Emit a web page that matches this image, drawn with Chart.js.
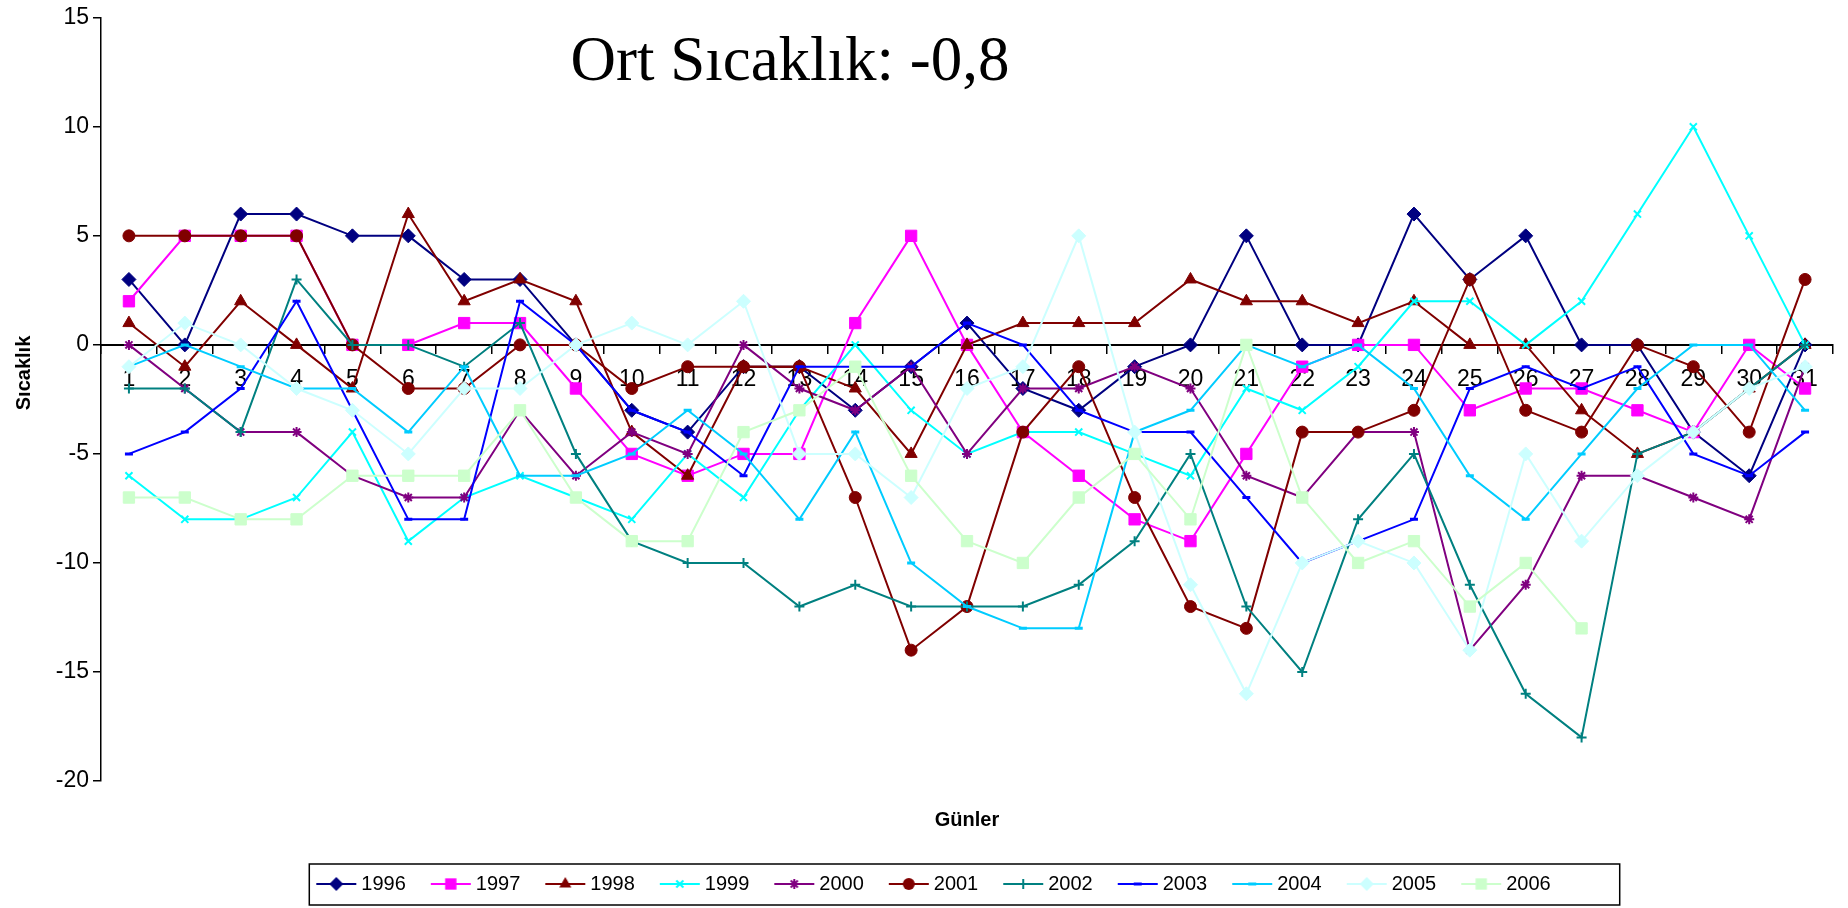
<!DOCTYPE html>
<html>
<head>
<meta charset="utf-8">
<script src="https://cdn.jsdelivr.net/npm/chart.js@4/dist/chart.umd.min.js"></script>
<style>
  html, body { margin: 0; padding: 0; background: #fff; }
  #chart { display: block; }
</style>
</head>
<body>
<canvas id="chart" width="1848" height="908"></canvas>
<script>
// data (temperature per day, one array per year)
const days = ['1','2','3','4','5','6','7','8','9','10','11','12','13','14','15','16',
  '17','18','19','20','21','22','23','24','25','26','27','28','29','30','31'];
const years = ['1996','1997','1998','1999','2000','2001','2002','2003','2004','2005','2006'];

const y1996 = [3,0,6,6,5,5,3,3,0,-3,-4,-1,-1,-3,-1,1,-2,-3,-1,0,5,0,0,6,3,5,0,0,-4,-6,0];
const y1997 = [2,5,5,5,0,0,1,1,-2,-5,-6,-5,-5,1,5,0,-4,-6,-8,-9,-5,-1,0,0,-3,-2,-2,-3,-4,0,-2];
const y1998 = [1,-1,2,0,-2,6,2,3,2,-4,-6,-1,-1,-2,-5,0,1,1,1,3,2,2,1,2,0,0,-3,-5,-4,-2,0];
const y1999 = [-6,-8,-8,-7,-4,-9,-7,-6,-7,-8,-5,-7,-3,0,-3,-5,-4,-4,-5,-6,-2,-3,-1,2,2,0,2,6,10,5,0];
const y2000 = [0,-2,-4,-4,-6,-7,-7,-3,-6,-4,-5,0,-2,-3,-1,-5,-2,-2,-1,-2,-6,-7,-4,-4,-14,-11,-6,-6,-7,-8,-1];
const y2001 = [5,5,5,5,0,-2,-2,0,0,-2,-1,-1,-1,-7,-14,-12,-4,-1,-7,-12,-13,-4,-4,-3,3,-3,-4,0,-1,-4,3];
const y2002 = [-2,-2,-4,3,0,0,-1,1,-5,-9,-10,-10,-12,-11,-12,-12,-12,-11,-9,-5,-12,-15,-8,-5,-11,-16,-18,-5,-4,-2,0];
const y2003 = [-5,-4,-2,2,-3,-8,-8,2,0,-3,-4,-6,-1,-1,-1,1,0,-3,-4,-4,-7,-10,-9,-8,-2,-1,-2,-1,-5,-6,-4];
const y2004 = [-1,0,-1,-2,-2,-4,-1,-6,-6,-5,-3,-5,-8,-4,-10,-12,-13,-13,-4,-3,0,-1,0,-2,-6,-8,-5,-2,0,0,-3];
const y2005 = [-1,1,0,-2,-3,-5,-2,-2,0,1,0,2,-5,-5,-7,-2,-1,5,-4,-11,-16,-10,-9,-10,-14,-5,-9,-6,-4,-2,-1];
const y2006 = [-7,-7,-8,-8,-6,-6,-6,-3,-7,-9,-9,-4,-3,-1,-6,-9,-10,-7,-5,-8,0,-7,-10,-9,-12,-10,-13,null,null,null,null];

const yTicks = [-20,-15,-10,-5,0,5,10,15];

const chartTitle = 'Ort Sıcaklık: -0,8';
const xTitle = 'Günler';
const yTitle = 'Sıcaklık';

// look of each series (Excel-like palette and markers)
const seriesData = [y1996,y1997,y1998,y1999,y2000,y2001,y2002,y2003,y2004,y2005,y2006];
const colors = ['#000080','#FF00FF','#800000','#00FFFF','#800080','#800000','#008080','#0000FF','#00CCFF','#CCFFFF','#CCFFCC'];
const markers = ['rectRot','rect','triangle','crossRot','star','circle','cross','line','line','rectRot','rect'];
const radii = [7,8,7,5,5,6,5,4,4,7,8];
const markerLine = [1,1,1,2,2,1,2,3,3,1,1];

const FONT = '"Liberation Sans", Arial, sans-serif';

// legend sample: short line with the marker, drawn a bit right of the image centre
function legendIcon(color, style, r, bw) {
  const c = document.createElement('canvas');
  c.width = 60; c.height = 20;
  const g = c.getContext('2d');
  const x = 37, y = 10, d = r * Math.SQRT1_2;
  g.strokeStyle = color; g.fillStyle = color;
  g.lineWidth = 2;
  g.beginPath(); g.moveTo(x - 20, y); g.lineTo(x + 20, y); g.stroke();
  g.lineWidth = bw;
  g.beginPath();
  if (style === 'rectRot') {
    g.moveTo(x - r, y); g.lineTo(x, y - r); g.lineTo(x + r, y); g.lineTo(x, y + r); g.closePath(); g.fill();
  } else if (style === 'rect') {
    g.fillRect(x - d, y - d, 2 * d, 2 * d);
  } else if (style === 'triangle') {
    g.moveTo(x, y - r); g.lineTo(x + r * 0.866, y + r * 0.5); g.lineTo(x - r * 0.866, y + r * 0.5); g.closePath(); g.fill();
  } else if (style === 'circle') {
    g.arc(x, y, r, 0, Math.PI * 2); g.fill();
  } else {
    if (style === 'crossRot' || style === 'star') {
      g.moveTo(x - d, y - d); g.lineTo(x + d, y + d);
      g.moveTo(x + d, y - d); g.lineTo(x - d, y + d);
    }
    if (style === 'cross' || style === 'star') {
      g.moveTo(x, y - r); g.lineTo(x, y + r);
      g.moveTo(x - r, y); g.lineTo(x + r, y);
    }
    if (style === 'line') {
      g.moveTo(x - r, y); g.lineTo(x + r, y);
    }
    g.stroke();
  }
  return c;
}

const datasets = years.map((name, i) => ({
  label: name,
  data: seriesData[i],
  borderColor: colors[i],
  backgroundColor: colors[i],
  borderWidth: 2,
  pointStyle: markers[i],
  pointRadius: radii[i],
  pointBorderWidth: markerLine[i],
  pointBackgroundColor: colors[i],
  pointBorderColor: colors[i],
  tension: 0,
  fill: false,
  order: years.length - i
}));

const decorations = {
  id: 'decorations',
  afterLayout(chart) {
    // legend sits a little left of the plot centre in the original
    const lg = chart.legend;
    lg.left -= 38;
    lg.right -= 38;
  },
  afterDraw(chart) {
    const ctx = chart.ctx;
    ctx.save();
    ctx.fillStyle = '#000';
    ctx.textAlign = 'center';
    ctx.textBaseline = 'alphabetic';
    ctx.font = '63px "Liberation Serif", "Times New Roman", serif';
    ctx.fillText(chartTitle, 790, 80);

    ctx.save();
    ctx.font = 'bold 20px ' + FONT;
    ctx.textBaseline = 'middle';
    ctx.translate(24, 373);
    ctx.rotate(-Math.PI / 2);
    ctx.fillText(yTitle, 0, 0);
    ctx.restore();

    // frame around the legend
    const hb = chart.legend.legendHitBoxes;
    if (hb && hb.length) {
      const first = hb[0], last = hb[hb.length - 1];
      const left = first.left + 2;
      const right = last.left + last.width + 69;
      const top = first.top - 10;
      const bottom = first.top + first.height + 11;
      ctx.strokeStyle = '#000';
      ctx.lineWidth = 1.5;
      ctx.strokeRect(left, top, right - left, bottom - top);
    }
    ctx.restore();
  }
};

const config = {
  type: 'line',
  data: { labels: days, datasets: datasets },
  options: {
    responsive: false,
    animation: false,
    layout: { padding: { top: 13, right: 15, bottom: 4, left: 0 } },
    scales: {
      x: {
        type: 'category',
        position: { y: 0 },
        offset: true,
        grid: { display: true, drawOnChartArea: false, offset: true, tickLength: 8, color: '#000', lineWidth: 1.5 },
        border: { display: true, color: '#000', width: 2 },
        ticks: { autoSkip: false, maxRotation: 0, color: '#000', padding: 13, font: { family: FONT, size: 23 } }
      },
      y: {
        min: -20,
        max: 15,
        afterBuildTicks: s => { s.ticks = yTicks.map(v => ({ value: v })); },
        afterFit: s => { s.width = 101; },
        grid: { display: true, drawOnChartArea: false, tickLength: 8, color: '#000', lineWidth: 1.5 },
        border: { display: true, color: '#000', width: 1.5 },
        ticks: { color: '#000', padding: 4, font: { family: FONT, size: 23 } }
      }
    },
    plugins: {
      tooltip: { enabled: false },
      title: {
        display: true,
        text: xTitle,
        position: 'bottom',
        fullSize: false,
        weight: 500,
        color: '#000',
        font: { family: FONT, size: 20, weight: 'bold' },
        padding: { top: 27, bottom: 26 }
      },
      legend: {
        position: 'bottom',
        fullSize: false,
        labels: {
          color: '#000',
          font: { family: FONT, size: 20 },
          usePointStyle: true,
          pointStyleWidth: 44,
          padding: 16,
          generateLabels: chart => chart.data.datasets.map((ds, i) => ({
            text: ds.label,
            fillStyle: colors[i],
            strokeStyle: colors[i],
            lineWidth: 0,
            hidden: false,
            datasetIndex: i,
            pointStyle: legendIcon(colors[i], markers[i], radii[i], markerLine[i])
          }))
        }
      }
    }
  },
  plugins: [decorations]
};

const chart = new Chart(document.getElementById('chart').getContext('2d'), config);
</script>
</body>
</html>
